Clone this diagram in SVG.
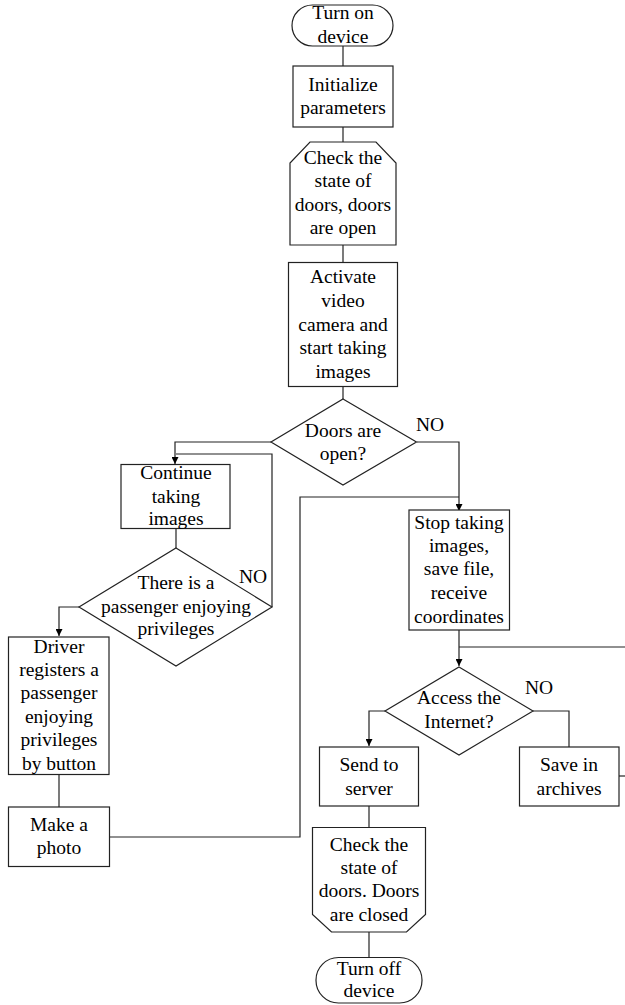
<svg xmlns="http://www.w3.org/2000/svg" width="625" height="1005" viewBox="0 0 625 1005">
<style>
.s{fill:#fff;stroke:#222;stroke-width:1.2}
.c{fill:none;stroke:#222;stroke-width:1.2}
text{font-family:"Liberation Serif","Times New Roman",serif;font-size:19.5px;fill:#000;text-anchor:middle}
</style>
<defs>
<marker id="a" viewBox="0 0 10 10" refX="10" refY="5" markerWidth="7" markerHeight="7" orient="auto" markerUnits="userSpaceOnUse">
<path d="M0,0 L10,5 L0,10 z" fill="#000"/>
</marker>
</defs>
<rect width="625" height="1005" fill="#fff"/>
<g id="connectors">
<line class="c" x1="343" y1="46" x2="343" y2="66"/>
<line class="c" x1="343" y1="127" x2="343" y2="142"/>
<line class="c" x1="343" y1="245" x2="343" y2="262"/>
<line class="c" x1="343" y1="387" x2="343" y2="399"/>
<path class="c" d="M271,442 H175 V464" marker-end="url(#a)"/>
<path class="c" d="M272,607 V454 H176"/>
<line class="c" x1="176" y1="528" x2="176" y2="548"/>
<path class="c" d="M79,607 H59 V636" marker-end="url(#a)"/>
<line class="c" x1="59" y1="774" x2="59" y2="807"/>
<path class="c" d="M109,837 H300 V497 H459"/>
<path class="c" d="M417,442 H459 V511" marker-end="url(#a)"/>
<line class="c" x1="459" y1="630" x2="459" y2="647"/>
<path class="c" d="M459,647 V666" marker-end="url(#a)"/>
<line class="c" x1="459" y1="647" x2="626" y2="647"/>
<path class="c" d="M385,711 H369 V746" marker-end="url(#a)"/>
<path class="c" d="M533,711 H569 V747"/>
<line class="c" x1="619" y1="776" x2="626" y2="776"/>
<line class="c" x1="369" y1="806" x2="369" y2="827"/>
<line class="c" x1="369" y1="932" x2="369" y2="957"/>
</g>
<g id="turn-on">
<rect class="s" x="292" y="5" width="101" height="41" rx="20.5"/>
<text x="343" y="19">Turn on</text>
<text x="343" y="43">device</text>
</g>
<g id="initialize">
<rect class="s" x="293" y="66" width="100" height="61"/>
<text x="343" y="91">Initialize</text>
<text x="343" y="114">parameters</text>
</g>
<g id="check-open">
<path class="s" d="M310,142 H376 L396,163 V245 H290 V163 Z"/>
<text x="343" y="164">Check the</text>
<text x="343" y="187">state of</text>
<text x="343" y="210.5">doors, doors</text>
<text x="343" y="233.5">are open</text>
</g>
<g id="activate">
<rect class="s" x="288.5" y="262.5" width="109" height="124"/>
<text x="343" y="282.5">Activate</text>
<text x="343" y="306.5">video</text>
<text x="343" y="330.5">camera and</text>
<text x="343" y="354">start taking</text>
<text x="343" y="377.5">images</text>
</g>
<g id="doors-open">
<path class="s" d="M343,399 L416.5,442 L343,485 L271,442 Z"/>
<text x="343" y="436.5">Doors are</text>
<text x="343" y="460">open?</text>
<text x="430" y="431">NO</text>
</g>
<g id="continue">
<rect class="s" x="121" y="464.5" width="109" height="64"/>
<text x="176" y="479">Continue</text>
<text x="176" y="502.5">taking</text>
<text x="176" y="525">images</text>
</g>
<g id="passenger">
<path class="s" d="M176,548 L272,607 L176,666 L79,607 Z"/>
<text x="176" y="588.5">There is a</text>
<text x="176" y="612.5">passenger enjoying</text>
<text x="176" y="635">privileges</text>
<text x="253" y="582.5">NO</text>
</g>
<g id="driver">
<rect class="s" x="8.5" y="637" width="100.5" height="137.5"/>
<text x="59" y="653">Driver</text>
<text x="59" y="676">registers a</text>
<text x="59" y="699">passenger</text>
<text x="59" y="722.5">enjoying</text>
<text x="59" y="746">privileges</text>
<text x="59" y="770">by button</text>
</g>
<g id="photo">
<rect class="s" x="8.5" y="807" width="101" height="59.5"/>
<text x="59" y="830.5">Make a</text>
<text x="59" y="854">photo</text>
</g>
<g id="stop">
<rect class="s" x="409" y="510" width="100.5" height="120"/>
<text x="459" y="528.5">Stop taking</text>
<text x="459" y="551.5">images,</text>
<text x="459" y="575">save file,</text>
<text x="459" y="599">receive</text>
<text x="459" y="622.5">coordinates</text>
</g>
<g id="internet">
<path class="s" d="M459,667 L533,711 L459,755 L385,711 Z"/>
<text x="459" y="704">Access the</text>
<text x="459" y="727.5">Internet?</text>
<text x="539" y="693.5">NO</text>
</g>
<g id="send">
<rect class="s" x="319.5" y="747" width="99" height="59"/>
<text x="369" y="771">Send to</text>
<text x="369" y="794.5">server</text>
</g>
<g id="save">
<rect class="s" x="519.5" y="747" width="99.5" height="59"/>
<text x="569" y="771">Save in</text>
<text x="569" y="794.5">archives</text>
</g>
<g id="check-closed">
<path class="s" d="M312.5,827.5 H425.5 V914.5 L406.5,932 H331.5 L312.5,914.5 Z"/>
<text x="369" y="850.5">Check the</text>
<text x="369" y="873.5">state of</text>
<text x="369" y="897">doors. Doors</text>
<text x="369" y="920.5">are closed</text>
</g>
<g id="turn-off">
<rect class="s" x="316" y="957.5" width="106" height="45.5" rx="22.5"/>
<text x="369" y="974.5">Turn off</text>
<text x="369" y="997">device</text>
</g>
</svg>
